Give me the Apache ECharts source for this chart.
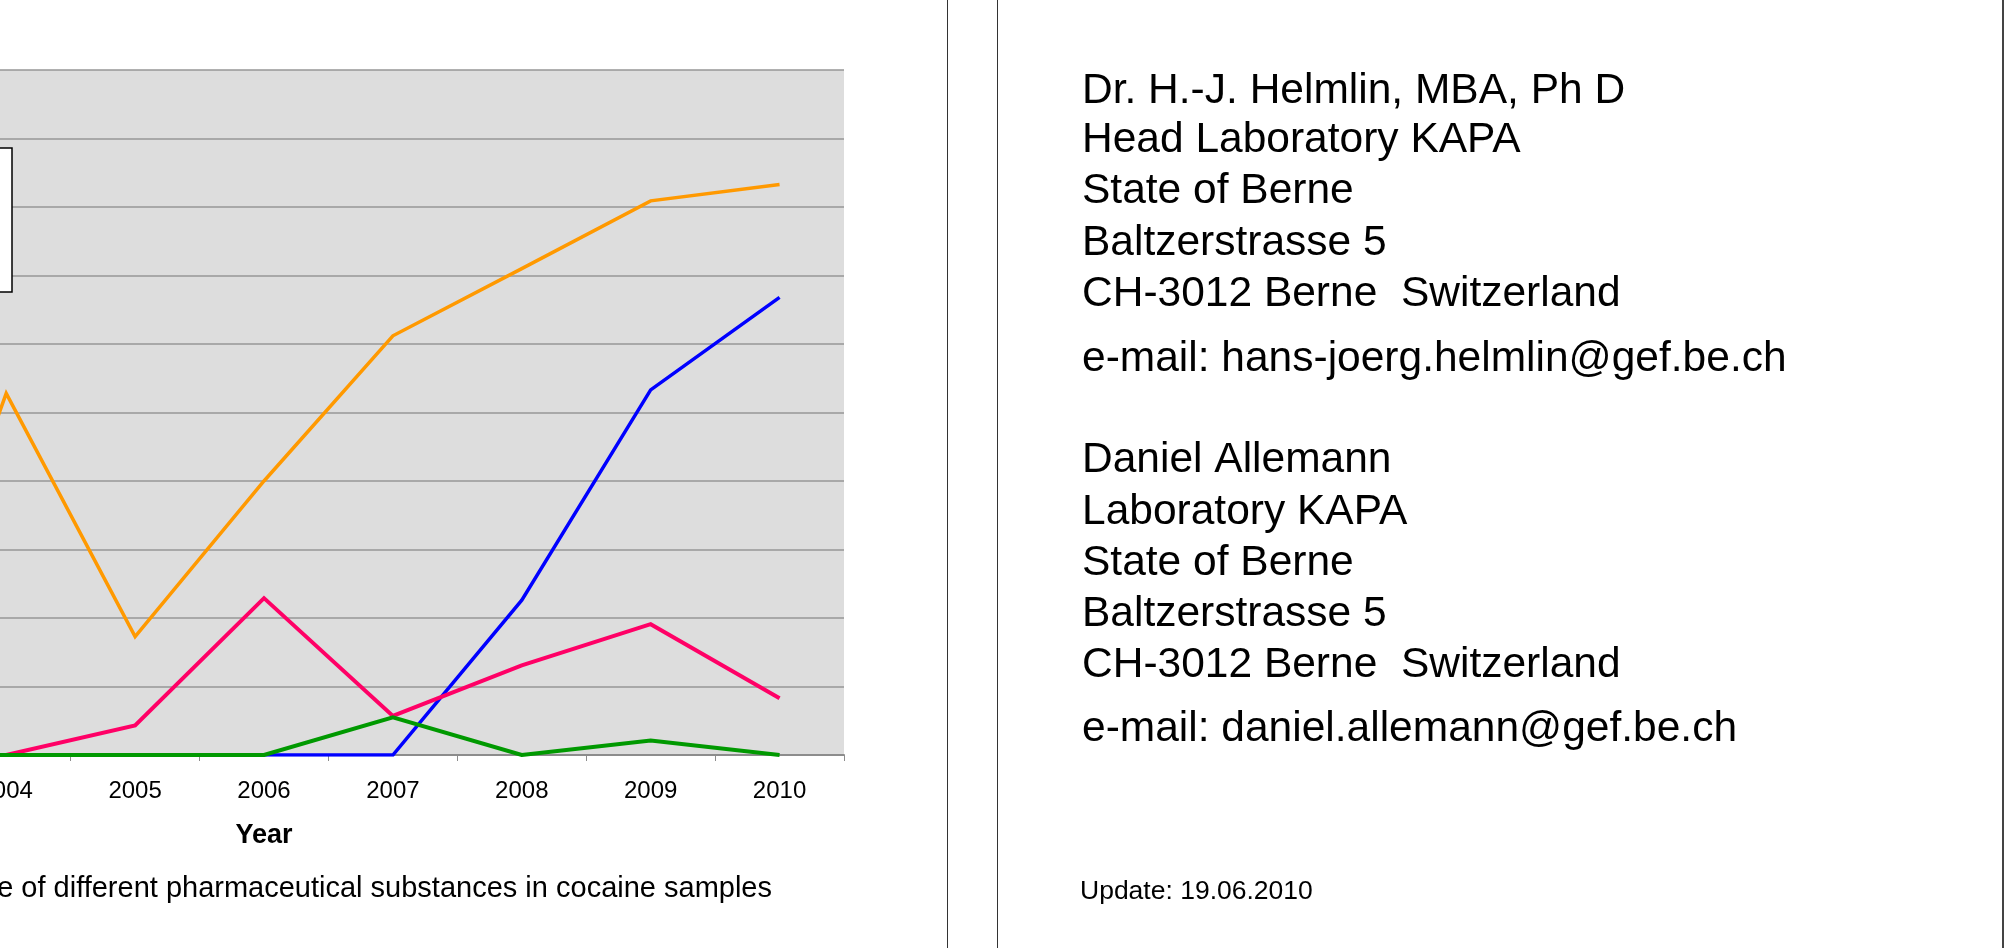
<!DOCTYPE html>
<html>
<head>
<meta charset="utf-8">
<title>Pharmaceutical substances in cocaine samples</title>
<script src="https://cdn.jsdelivr.net/npm/echarts@6/dist/echarts.min.js"></script>
<style>
  html, body { margin: 0; padding: 0; background: #ffffff; }
  #chart { width: 2006px; height: 948px; }
</style>
</head>
<body>
<div id="chart"></div>
<script>
// Years on the category axis
const years = ['2002', '2003', '2004', '2005', '2006', '2007', '2008', '2009', '2010'];

// Share of samples containing each substance [%]
const phenacetin = [0, 0, 52.8, 17.3, 40.0, 61.2, 71.0, 80.9, 83.3];
const levamisole = [0, 0, 0, 0, 0, 0, 22.6, 53.3, 66.8];
const lidocaine  = [0, 0, 0, 4.3, 22.9, 5.7, 13.1, 19.1, 8.3];
const diltiazem  = [0, 0, 0, 0, 0, 5.5, 0, 2.1, 0];

// Contact block beside the chart
const contactLines = [
  'Dr. H.-J. Helmlin, MBA, Ph D',
  'Head Laboratory KAPA',
  'State of Berne',
  'Baltzerstrasse 5',
  'CH-3012 Berne  Switzerland',
  'e-mail: hans-joerg.helmlin@gef.be.ch',
  'Daniel Allemann',
  'Laboratory KAPA',
  'State of Berne',
  'Baltzerstrasse 5',
  'CH-3012 Berne  Switzerland',
  'e-mail: daniel.allemann@gef.be.ch'
];
const contactBaselines = [104, 153.5, 204.5, 256, 307, 372, 473.5, 525, 576, 627.5, 678, 742];
const updateNote = 'Update: 19.06.2010';
const caption = 'Fig. 1: Prevalence of different pharmaceutical substances in cocaine samples';

const FONT = '"Liberation Sans", Arial, Helvetica, sans-serif';
const chart = echarts.init(document.getElementById('chart'), null, { renderer: 'canvas' });

function lineSeries(name, data, color, width) {
  return {
    name: name,
    type: 'line',
    data: data,
    symbol: 'none',
    showSymbol: false,
    color: color,
    lineStyle: { color: color, width: width, join: 'miter', cap: 'butt' },
    emphasis: { disabled: true }
  };
}

const graphics = [];
// page dividers
graphics.push({ type: 'line', shape: { x1: 947.5, y1: 0, x2: 947.5, y2: 948 }, style: { stroke: '#333333', lineWidth: 1 } });
graphics.push({ type: 'line', shape: { x1: 997.5, y1: 0, x2: 997.5, y2: 948 }, style: { stroke: '#333333', lineWidth: 1 } });
graphics.push({ type: 'line', shape: { x1: 2003, y1: 0, x2: 2003, y2: 948 }, style: { stroke: '#444444', lineWidth: 2 } });

contactLines.forEach(function (t, i) {
  graphics.push({
    type: 'text', x: 1082, y: contactBaselines[i] - 13,
    style: { text: t, fill: '#000000', font: '42.5px ' + FONT, align: 'left', verticalAlign: 'middle' }
  });
});
graphics.push({
  type: 'text', x: 1080, y: 900 - 8.2,
  style: { text: updateNote, fill: '#000000', font: '26.5px ' + FONT, align: 'left', verticalAlign: 'middle' }
});
graphics.push({
  type: 'text', x: 772, y: 889.3,
  style: { text: caption, fill: '#000000', font: '29px ' + FONT, align: 'right', verticalAlign: 'middle' }
});

chart.setOption({
  animation: false,
  backgroundColor: '#ffffff',
  textStyle: { fontFamily: FONT },
  grid: {
    left: -316, right: 1162, top: 70, bottom: 193,
    show: true, backgroundColor: '#dddddd', borderWidth: 0,
    containLabel: false, outerBoundsMode: 'none'
  },
  legend: {
    orient: 'vertical',
    right: 1994, top: 148,
    padding: [12, 12],
    itemGap: 8,
    itemWidth: 40, itemHeight: 14,
    icon: 'rect',
    backgroundColor: '#ffffff',
    borderColor: '#000000', borderWidth: 1.5,
    textStyle: { fontSize: 22, lineHeight: 24, color: '#000000', fontFamily: FONT },
    data: ['Levamisole', 'Phenacetin', 'Lidocaine', 'Diltiazem']
  },
  xAxis: {
    type: 'category',
    data: years,
    boundaryGap: true,
    name: 'Year',
    nameLocation: 'middle',
    nameGap: 67,
    nameTextStyle: { fontSize: 27, fontWeight: 'bold', color: '#000000', fontFamily: FONT },
    axisLine: { lineStyle: { color: '#8c8c8c', width: 2 } },
    axisTick: { show: true, length: 6, alignWithLabel: false, lineStyle: { color: '#8c8c8c', width: 1 } },
    axisLabel: { fontSize: 24, color: '#000000', margin: 24, fontFamily: FONT, interval: 0 },
    splitLine: { show: false }
  },
  yAxis: {
    type: 'value',
    min: 0, max: 100, interval: 10,
    name: 'Frequency [%]',
    axisLine: { show: false },
    axisTick: { show: false },
    axisLabel: { fontSize: 23, color: '#000000' },
    splitLine: { show: true, lineStyle: { color: '#969696', width: 1.5 } }
  },
  series: [
    lineSeries('Levamisole', levamisole, '#0000ff', 3.5),
    lineSeries('Phenacetin', phenacetin, '#ff9900', 3.5),
    lineSeries('Lidocaine', lidocaine, '#ff0066', 4),
    lineSeries('Diltiazem', diltiazem, '#009900', 4)
  ],
  graphic: graphics
});
</script>
</body>
</html>
